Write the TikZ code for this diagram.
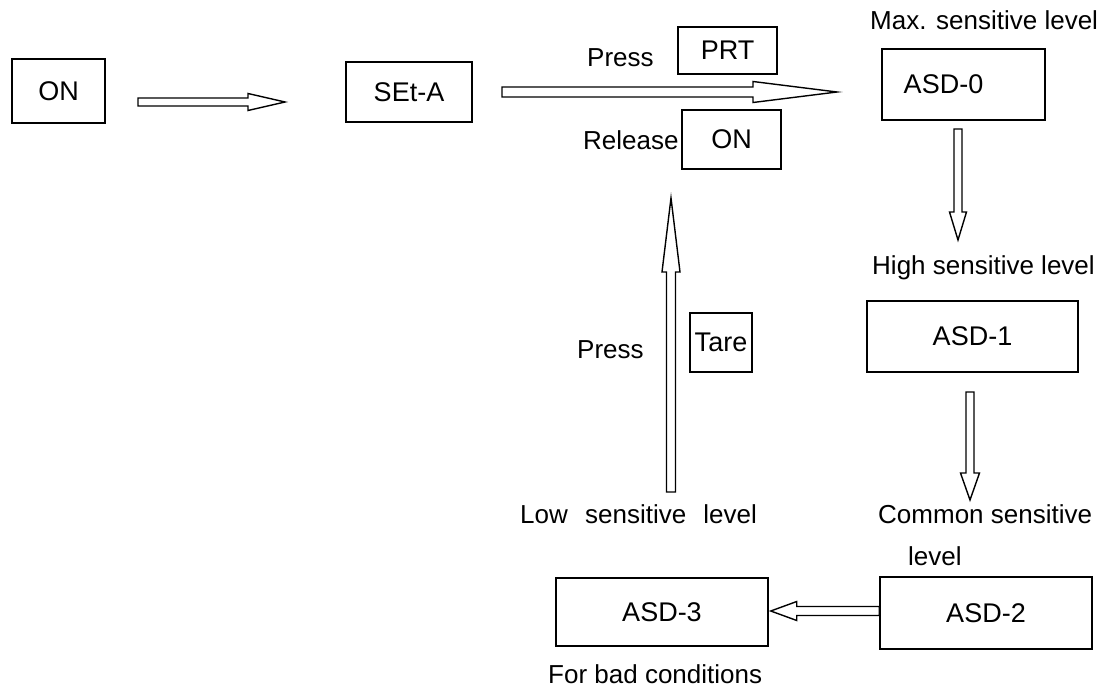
\documentclass[tikz,border=0pt]{standalone}
\usepackage{fontspec}
\setmainfont{Liberation Sans}
\usetikzlibrary{calc, positioning}

% hohler Blockpfeil von #1 nach #2: halbe Schaftbreite #3, halbe Spitzenbreite #4, Spitzenlaenge #5
\newcommand{\BlockPfeil}[5]{%
	\coordinate (bpH) at ($(#2)!#5!(#1)$);
	\draw[BlockArrow] ($(#1)!#3!90:(#2)$) -- ($(bpH)!#3!90:(#2)$) -- ($(bpH)!#4!90:(#2)$) -- (#2)
		-- ($(bpH)!#4!-90:(#2)$) -- ($(bpH)!#3!-90:(#2)$) -- ($(#1)!#3!-90:(#2)$) -- cycle;%
}

\begin{document}
\begin{tikzpicture}
			[
			x=1pt, y=-1pt,
			every node/.style={font=\fontsize{26}{31}\selectfont},
			Box/.style={draw, line width=1.5pt, inner sep=0pt, font=\fontsize{27}{32}\selectfont},	%Kaesten
			Label/.style={anchor=base west, inner sep=0pt},					%Beschriftungen
			BlockArrow/.style={line width=1.4pt, line join=miter, fill=white}	%Blockpfeile
			]
			\useasboundingbox (0,0) rectangle (1109,695);

			%% Kaesten %%
			\node[Box, minimum width=93pt,  minimum height=64pt] (on)    at (58.5,91)    {ON};
			\node[Box, minimum width=126pt, minimum height=60pt] (seta)  at (409,92)     {SEt-A};
			\node[Box, minimum width=99pt,  minimum height=47pt] (prt)   at (727.5,50.5) {PRT};
			\node[Box, minimum width=99pt,  minimum height=59pt] (onrel) at (731.5,139.5) {ON};
			\node[Box, minimum width=163pt, minimum height=71pt] (asd0)  at (963.5,84.5) {ASD-0\hspace*{40pt}};
			\node[Box, minimum width=211pt, minimum height=71pt] (asd1)  at (972.5,336.5) {ASD-1};
			\node[Box, minimum width=62pt,  minimum height=59pt] (tare)  at (721,342.5)  {Tare};
			\node[Box, minimum width=212pt, minimum height=68pt] (asd3)  at (662,612)    {ASD-3};
			\node[Box, minimum width=212pt, minimum height=72pt] (asd2)  at (986,613)    {ASD-2};

			%% Beschriftungen %%
			\node[Label] (press1)  at (587,67)  {Press};
			\node[Label] (release) at (583,150) {Release};
			\node[Label] (max)     at (870,30)  {Max. sensitive level};
			\node[Label] (high)    at (872,275) {High sensitive level};
			\node[Label] (press2)  at (577,358) {Press};
			\node[Label] (low)     at (520,523) {Low\hspace{10pt} sensitive\hspace{10pt} level};
			\node[Label] (common)  at (878,523) {Common sensitive};
			\node[Label] (level)   at (908,565) {level};
			\node[Label] (bad)     at (548,683) {For bad conditions};

			% Endpunkte der Pfeile
			\coordinate (p1s) at (138,102);	\coordinate (p1e) at (285,102);
			\coordinate (p2s) at (502,92);	\coordinate (p2e) at (837,92);
			\coordinate (p3s) at (958,129);	\coordinate (p3e) at (958,240);
			\coordinate (p4s) at (970,392);	\coordinate (p4e) at (970,500);
			\coordinate (p5s) at (671,492);	\coordinate (p5e) at (671,198);
			\coordinate (p6s) at (asd2.west |- 0,611);	\coordinate (p6e) at ($(asd3.east |- 0,611)+(2,0)$);

			%% Pfeile %%
			\BlockPfeil{p1s}{p1e}{4pt}{8.5pt}{37pt}		%ON -> SEt-A
			\BlockPfeil{p2s}{p2e}{5pt}{10.5pt}{84pt}	%SEt-A -> ASD-0
			\BlockPfeil{p3s}{p3e}{4pt}{8.5pt}{28pt}		%ASD-0 -> ASD-1
			\BlockPfeil{p4s}{p4e}{4pt}{9.5pt}{27pt}		%ASD-1 -> ASD-2
			\BlockPfeil{p5s}{p5e}{4.5pt}{9pt}{74pt}		%Low -> zurueck
			\BlockPfeil{p6s}{p6e}{4.5pt}{9.5pt}{26pt}	%ASD-2 -> ASD-3
\end{tikzpicture}
\end{document}
